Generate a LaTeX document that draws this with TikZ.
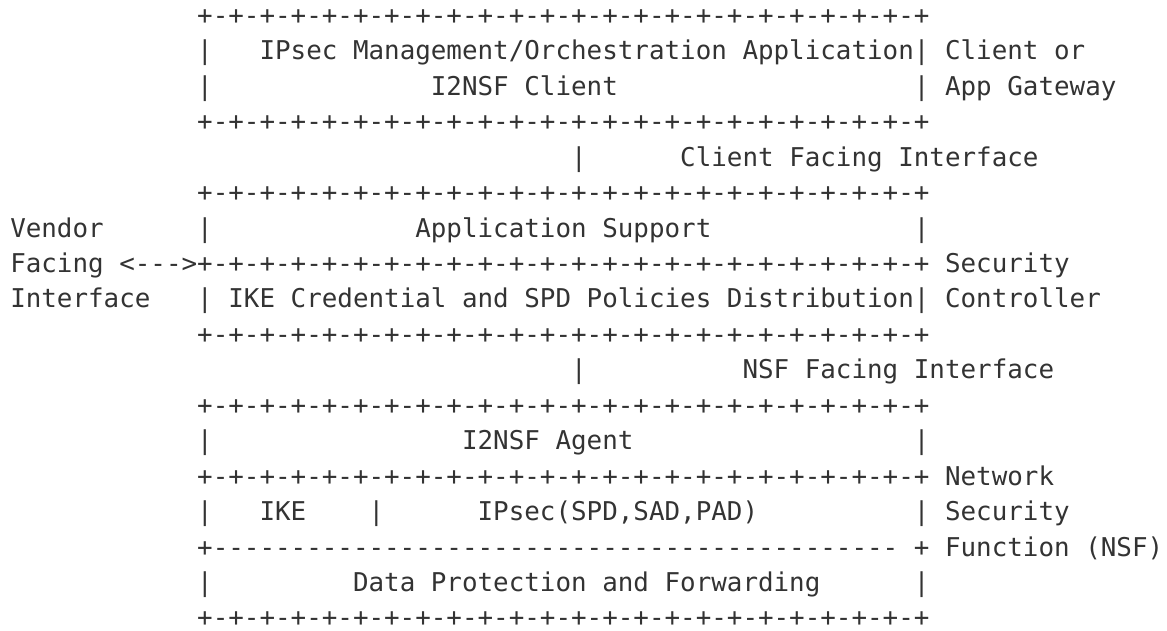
\documentclass[tikz,border=0pt]{standalone}
\usepackage{fontspec}
\newfontfamily\asciifont{DejaVu Sans Mono}[Ligatures=TeXOff]
\definecolor{ink}{HTML}{333333}
\newcommand\asciipair{+-}
\newcommand\asciiborder{\asciipair\asciipair\asciipair\asciipair\asciipair\asciipair\asciipair\asciipair\asciipair\asciipair\asciipair\asciipair\asciipair\asciipair\asciipair\asciipair\asciipair\asciipair\asciipair\asciipair\asciipair\asciipair\asciipair+}
\newcommand\asciiqd{----}
\newcommand\asciidashes{\asciiqd\asciiqd\asciiqd\asciiqd\asciiqd\asciiqd\asciiqd\asciiqd\asciiqd\asciiqd\asciiqd}
\newcommand\CW{15.58}
\newcommand\XO{10.25}
\newcommand\LS{35.45}
\newcommand\YB{-24.3}
\newcommand\cell[4]{\node[asciitext] (#1) at ({\XO+#2*\CW},{\YB-#3*\LS}) {#4};}
\tikzset{asciitext/.style={anchor=base west, inner sep=0pt, outer sep=0pt, text depth=0pt,
  font=\asciifont\fontsize{25.88}{30}\selectfont, text=ink}}
\begin{document}
\begin{tikzpicture}[x=1pt,y=1pt]
\useasboundingbox (0,0) rectangle (1167,-631);
% Client / App Gateway
\cell{b0}{12}{0}{\asciiborder}
\cell{l1}{12}{1}{|}
\cell{mgmt}{16}{1}{IPsec Management/Orchestration Application|}
\cell{client}{60}{1}{Client or}
\cell{l2}{12}{2}{|}
\cell{i2client}{27}{2}{I2NSF Client}
\cell{r2}{58}{2}{|}
\cell{appgw}{60}{2}{App Gateway}
\cell{b3}{12}{3}{\asciiborder}
% client facing interface
\cell{cfi}{36}{4}{|}
\cell{cfitext}{43}{4}{Client Facing Interface}
% Security Controller
\cell{b5}{12}{5}{\asciiborder}
\cell{vendor}{0}{6}{Vendor}
\cell{l6}{12}{6}{|}
\cell{appsup}{26}{6}{Application Support}
\cell{r6}{58}{6}{|}
\cell{facing}{0}{7}{Facing <--->}
\cell{b7}{12}{7}{\asciiborder}
\cell{sec1}{60}{7}{Security}
\cell{iface}{0}{8}{Interface}
\cell{l8}{12}{8}{|}
\cell{ike}{14}{8}{IKE Credential and SPD Policies Distribution|}
\cell{ctrl}{60}{8}{Controller}
\cell{b9}{12}{9}{\asciiborder}
% NSF facing interface
\cell{nfi}{36}{10}{|}
\cell{nfitext}{47}{10}{NSF Facing Interface}
% NSF
\cell{b11}{12}{11}{\asciiborder}
\cell{l12}{12}{12}{|}
\cell{agent}{29}{12}{I2NSF Agent}
\cell{r12}{58}{12}{|}
\cell{b13}{12}{13}{\asciiborder}
\cell{net}{60}{13}{Network}
\cell{l14}{12}{14}{|}
\cell{ikebox}{16}{14}{IKE}
\cell{m14}{23}{14}{|}
\cell{ipsec}{30}{14}{IPsec(SPD,SAD,PAD)}
\cell{r14}{58}{14}{|}
\cell{sec2}{60}{14}{Security}
\cell{b15}{12}{15}{+\asciidashes}
\cell{p15}{58}{15}{+}
\cell{func}{60}{15}{Function (NSF)}
\cell{l16}{12}{16}{|}
\cell{data}{22}{16}{Data Protection and Forwarding}
\cell{r16}{58}{16}{|}
\cell{b17}{12}{17}{\asciiborder}
\end{tikzpicture}
\end{document}
